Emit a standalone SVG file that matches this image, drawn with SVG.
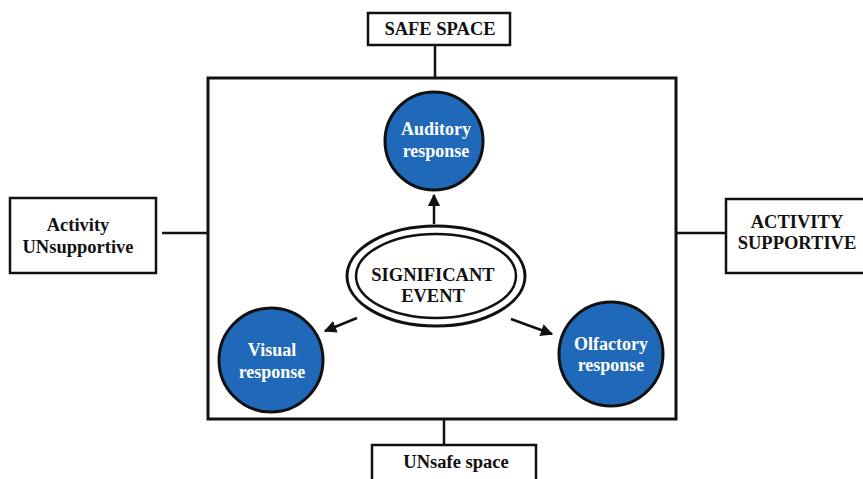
<svg xmlns="http://www.w3.org/2000/svg" width="863" height="479" viewBox="0 0 863 479">
<style>
.box{fill:#fff;stroke:#111;stroke-width:2.5}
.ln{stroke:#111;stroke-width:2.5;fill:none}
.bt{font-family:"Liberation Serif",serif;font-weight:bold;font-size:18.5px;fill:#111;text-anchor:middle}
.ct{font-family:"Liberation Serif",serif;font-weight:bold;font-size:18px;fill:#fff;text-anchor:middle}
.circ{fill:#2068b8;stroke:#111;stroke-width:3}
</style>
<defs>
<marker id="ah" viewBox="0 0 10 10" refX="9" refY="5" markerWidth="5" markerHeight="5" orient="auto" markerUnits="strokeWidth">
<path d="M0,0 L10,5 L0,10 z" fill="#111"/>
</marker>
</defs>
<rect width="863" height="479" fill="#fff"/>
<g id="frame">
<rect x="208" y="78" width="468" height="341" fill="none" stroke="#111" stroke-width="3"/>
</g>
<g id="connectors">
<line class="ln" x1="435" y1="45" x2="435" y2="78"/>
<line class="ln" x1="162" y1="233" x2="207" y2="233"/>
<line class="ln" x1="676" y1="233" x2="726" y2="233"/>
<line class="ln" x1="444" y1="420" x2="444" y2="445"/>
<line class="ln" x1="434" y1="224" x2="434" y2="195" stroke-width="2" marker-end="url(#ah)"/>
<line class="ln" x1="357" y1="318" x2="325" y2="331" stroke-width="2" marker-end="url(#ah)"/>
<line class="ln" x1="511" y1="319" x2="552" y2="334" stroke-width="2" marker-end="url(#ah)"/>
</g>
<g id="safe-space">
<rect class="box" x="368" y="13" width="142" height="32"/>
<text class="bt" x="440" y="35" font-size="19.5">SAFE SPACE</text>
</g>
<g id="activity-unsupportive">
<rect class="box" x="10" y="198" width="146" height="75"/>
<text class="bt" x="78" y="231">Activity</text>
<text class="bt" x="78" y="253">UNsupportive</text>
</g>
<g id="activity-supportive">
<rect class="box" x="726" y="199" width="140" height="74"/>
<text class="bt" x="797" y="228">ACTIVITY</text>
<text class="bt" x="797" y="249">SUPPORTIVE</text>
</g>
<g id="unsafe-space">
<rect class="box" x="372" y="445" width="164" height="40"/>
<text class="bt" x="456" y="468" font-size="19">UNsafe space</text>
</g>
<g id="significant-event">
<ellipse cx="436" cy="276" rx="89" ry="50" fill="#fff" stroke="#111" stroke-width="3"/>
<ellipse cx="436" cy="276" rx="80" ry="42" fill="#fff" stroke="#111" stroke-width="2.5"/>
<text class="bt" x="433" y="281" font-size="19.5">SIGNIFICANT</text>
<text class="bt" x="433" y="302" font-size="19.5">EVENT</text>
</g>
<g id="auditory">
<circle class="circ" cx="434" cy="141" r="49"/>
<text class="ct" x="436" y="135">Auditory</text>
<text class="ct" x="436" y="157">response</text>
</g>
<g id="visual">
<circle class="circ" cx="271" cy="360" r="52"/>
<text class="ct" x="272" y="356">Visual</text>
<text class="ct" x="272" y="378">response</text>
</g>
<g id="olfactory">
<circle class="circ" cx="611" cy="354" r="52"/>
<text class="ct" x="611" y="350">Olfactory</text>
<text class="ct" x="611" y="371">response</text>
</g>
</svg>
